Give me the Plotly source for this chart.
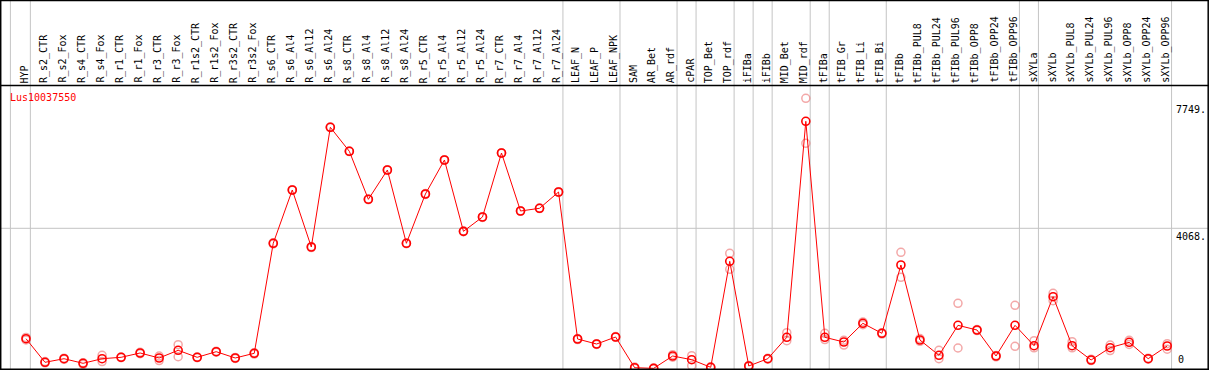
import plotly.graph_objects as go

categories = ["HYP", "R_s2_CTR", "R_s2_Fox", "R_s4_CTR", "R_s4_Fox", "R_r1_CTR", "R_r1_Fox",
              "R_r3_CTR", "R_r3_Fox", "R_r1s2_CTR", "R_r1s2_Fox", "R_r3s2_CTR", "R_r3s2_Fox",
              "R_s6_CTR", "R_s6_Al4", "R_s6_Al12", "R_s6_Al24", "R_s8_CTR", "R_s8_Al4", "R_s8_Al12",
              "R_s8_Al24", "R_r5_CTR", "R_r5_Al4", "R_r5_Al12", "R_r5_Al24", "R_r7_CTR", "R_r7_Al4",
              "R_r7_Al12", "R_r7_Al24", "LEAF_N", "LEAF_P", "LEAF_NPK", "SAM", "AR_Bet", "AR_rdf",
              "cPAR", "TOP_Bet", "TOP_rdf", "iFIBa", "iFIBb", "MID_Bet", "MID_rdf", "tFIBa",
              "tFIB_Gr", "tFIB_Li", "tFIB_Bi", "tFIBb", "tFIBb_PUL8", "tFIBb_PUL24", "tFIBb_PUL96",
              "tFIBb_OPP8", "tFIBb_OPP24", "tFIBb_OPP96", "sXYLa", "sXYLb", "sXYLb_PUL8",
              "sXYLb_PUL24", "sXYLb_PUL96", "sXYLb_OPP8", "sXYLb_OPP24", "sXYLb_OPP96"]

mean_values = [865, 180, 284, 151, 284, 325, 450, 305, 528, 325, 488, 305, 441,
               3633, 5179, 3525, 6999, 6302, 4909, 5760, 3633, 5063, 6050, 3980, 4396,
               6253, 4570, 4648, 5121, 856, 711, 914, 23, 5, 363, 255, 35, 3110, 73, 284,
               905, 7173, 905, 769, 1311, 1021, 3003, 827, 383, 1253, 1117, 363, 1253,
               662, 2083, 662, 247, 604, 760, 284, 653]

rep_a = [900, 200, 300, 170, 383, 335, 470, 360, 691, 335, 500, 320, 460,
         3650, 5190, 3540, 7010, 6310, 4920, 5770, 3645, 5075, 6060, 3990, 4405,
         6260, 4580, 4655, 5130, 870, 720, 925, 40, 15, 400, 371, 50, 3343, 85, 295,
         1039, 7840, 1021, 820, 1350, 1040, 3372, 870, 528, 1892, 1130, 380, 1834,
         807, 2182, 778, 270, 680, 820, 300, 720]

rep_b = [830, 165, 265, 120, 200, 315, 430, 230, 342, 315, 475, 290, 420,
         3615, 5170, 3510, 6990, 6295, 4900, 5750, 3620, 5050, 6040, 3970, 4385,
         6245, 4560, 4640, 5110, 840, 700, 905, 10, 0, 330, 81, 20, 2878, 60, 270,
         807, 6534, 840, 680, 1270, 1000, 2646, 790, 284, 595, 1100, 340, 644,
         600, 1967, 600, 230, 520, 700, 270, 560]

group_last = ["HYP", "R_r7_Al24", "LEAF_NPK", "AR_rdf", "cPAR", "TOP_rdf", "iFIBa", "iFIBb",
              "MID_rdf", "tFIBa", "tFIB_Bi", "tFIBb_OPP96", "sXYLa", "sXYLb_OPP96"]

tick_values = [7749, 4068, 0]
tick_labels = ["7749.", "4068.", "0"]
gene_name = "Lus10037550"

W, H = 1209, 370
X0, DX = 26.0, 19.02          # pixel of first category, spacing
Y0, KY = 368.5, 0.034464       # pixel of value 0, pixels per unit

def py(p):  # pixel y -> paper y
    return 1 - p / H

def px(p):  # pixel x -> paper x
    return p / W

xs = list(range(len(categories)))
FONT = "DejaVu Sans Mono"

fig = go.Figure()
fig.add_trace(go.Scatter(
    x=xs + xs, y=rep_a + rep_b, mode="markers",
    marker=dict(symbol="circle-open", size=8, color="rgba(235,110,110,0.6)",
                line=dict(width=1.5, color="rgba(235,110,110,0.6)")),
    hoverinfo="skip", showlegend=False, cliponaxis=False))
fig.add_trace(go.Scatter(
    x=xs, y=mean_values, mode="lines+markers",
    line=dict(color="#ff0000", width=1),
    marker=dict(symbol="circle-open", size=8, color="#ff0000",
                line=dict(width=1.6, color="#ff0000")),
    showlegend=False, cliponaxis=False))

shapes = []
GRAY = "#c4c4c4"
shapes.append(dict(type="line", xref="x", yref="paper", x0=-0.82, x1=-0.82, y0=0, y1=1,
                   line=dict(color=GRAY, width=1), layer="below"))
for name in group_last:
    xi = categories.index(name) + 0.23
    shapes.append(dict(type="line", xref="x", yref="paper", x0=xi, x1=xi, y0=0, y1=1,
                       line=dict(color=GRAY, width=1), layer="below"))
shapes.append(dict(type="line", xref="paper", yref="y", x0=0, x1=px(1208), y0=tick_values[1],
                   y1=tick_values[1], line=dict(color=GRAY, width=1), layer="below"))
BLK = dict(color="black", width=1.5)
shapes.append(dict(type="line", xref="paper", yref="paper", x0=0, x1=1, y0=py(0.6), y1=py(0.6), line=BLK))
shapes.append(dict(type="line", xref="paper", yref="paper", x0=0, x1=1, y0=py(85.5), y1=py(85.5), line=BLK))
shapes.append(dict(type="line", xref="paper", yref="paper", x0=0, x1=1, y0=py(369.3), y1=py(369.3), line=BLK))
shapes.append(dict(type="line", xref="paper", yref="paper", x0=px(0.7), x1=px(0.7), y0=0, y1=1, line=BLK))
shapes.append(dict(type="line", xref="paper", yref="paper", x0=px(1208.2), x1=px(1208.2), y0=0, y1=1, line=BLK))

annotations = []
for i, c in enumerate(categories):
    annotations.append(dict(x=i - 0.08, y=py(84), xref="x", yref="paper", text=c, textangle=-90,
                            xanchor="center", yanchor="bottom", showarrow=False,
                            font=dict(family=FONT, size=10, color="black"), borderpad=0))
annotations.append(dict(x=px(9), y=py(97), xref="paper", yref="paper", text=gene_name,
                        xanchor="left", yanchor="middle", showarrow=False, borderpad=0,
                        font=dict(family=FONT, size=10, color="#ff0000")))
for v, t in zip(tick_values, tick_labels):
    if v == 0:
        annotations.append(dict(x=px(1181), y=py(366), xref="paper", yref="paper", text=t,
                                xanchor="center", yanchor="bottom", showarrow=False, borderpad=0,
                                font=dict(family=FONT, size=10, color="black")))
    else:
        annotations.append(dict(x=px(1207), y=v, xref="paper", yref="y", text=t, yshift=-2,
                                xanchor="right", yanchor="top", showarrow=False, borderpad=0,
                                font=dict(family=FONT, size=10, color="black")))

fig.update_layout(
    width=W, height=H, margin=dict(l=0, r=0, t=0, b=0),
    paper_bgcolor="white", plot_bgcolor="white",
    xaxis=dict(range=[(0 - X0) / DX, (W - X0) / DX], showgrid=False, zeroline=False,
               showticklabels=False, visible=False),
    yaxis=dict(range=[(Y0 - H) / KY, Y0 / KY], showgrid=False, zeroline=False,
               showticklabels=False, visible=False),
    shapes=shapes, annotations=annotations, showlegend=False,
)
fig.write_html("out.html", config={"displayModeBar": False},
               post_script="document.body.style.margin='0';document.body.style.overflow='hidden';")
